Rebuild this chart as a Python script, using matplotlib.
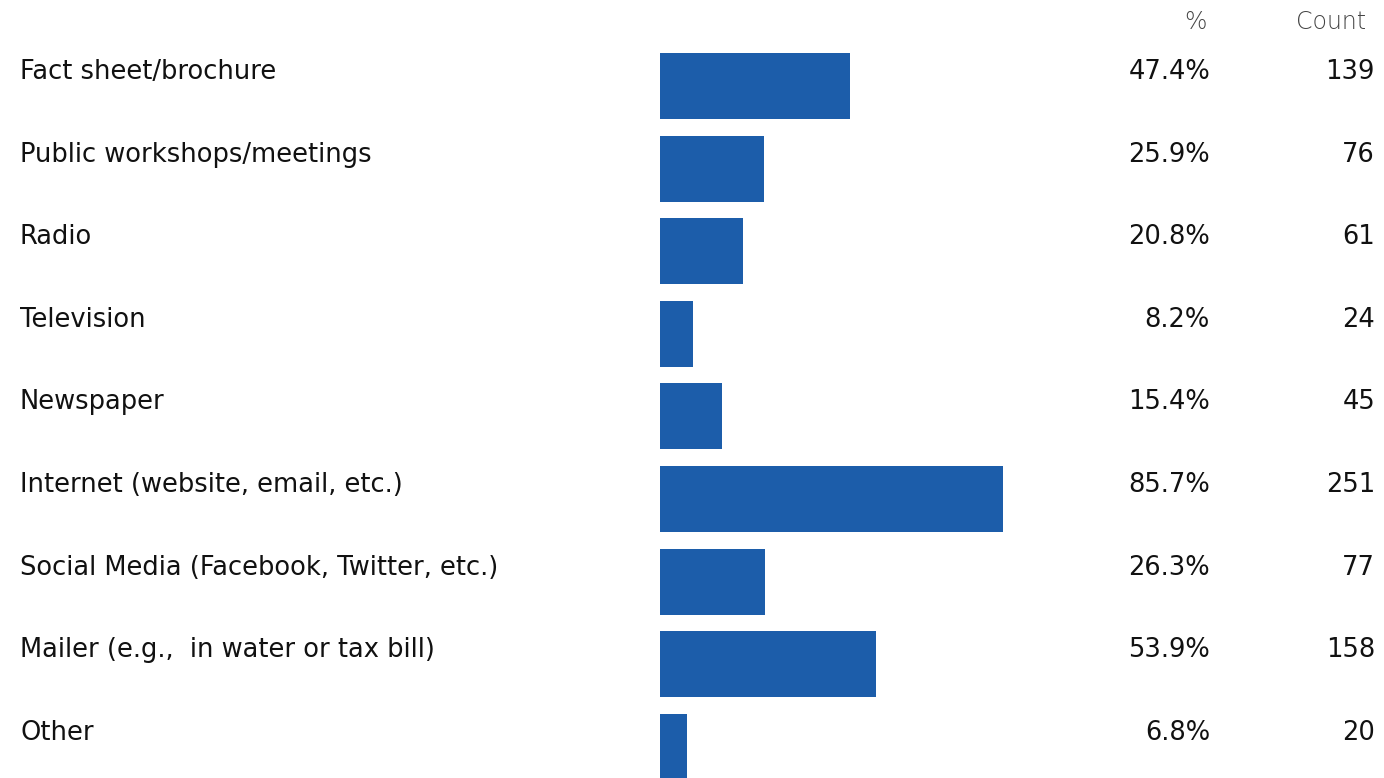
import matplotlib.pyplot as plt
import matplotlib.transforms as mtransforms

# data
categories = ['Fact sheet/brochure', 'Public workshops/meetings', 'Radio', 'Television',
              'Newspaper', 'Internet (website, email, etc.)', 'Social Media (Facebook, Twitter, etc.)',
              'Mailer (e.g.,  in water or tax bill)', 'Other']
percents = [47.4, 25.9, 20.8, 8.2, 15.4, 85.7, 26.3, 53.9, 6.8]
counts = [139, 76, 61, 24, 45, 251, 77, 158, 20]

W, H = 1384, 778
fig = plt.figure(figsize=(W / 100, H / 100), dpi=100)

# bar area: 0-100% spans 660..1060 px
ax = fig.add_axes([660 / W, 0, 400 / W, 1])
row = 82.6
top = -86 / row
bottom = (H - 86) / row
ax.barh(range(len(categories)), percents, height=66 / row, color='#1c5daa')
ax.set_xlim(0, 100)
ax.set_ylim(bottom, top)
ax.axis('off')

font = 'DejaVu Sans'
fs = 18.5
trans = mtransforms.blended_transform_factory(fig.transFigure, ax.transData)
for i, (cat, p, c) in enumerate(zip(categories, percents, counts)):
    y = i - 14 / row
    fig.text(20 / W, y, cat, transform=trans, ha='left', va='center', fontsize=fs, family=font, color='#111111')
    fig.text(1210 / W, y, f'{p:.1f}%', transform=trans, ha='right', va='center', fontsize=fs, family=font, color='#111111')
    fig.text(1375 / W, y, str(c), transform=trans, ha='right', va='center', fontsize=fs, family=font, color='#111111')

fig.text(1195 / W, 1 - 22 / H, '%', ha='center', va='center', fontsize=17, family=font, color='#444444', fontweight='light')
fig.text(1366 / W, 1 - 22 / H, 'Count', ha='right', va='center', fontsize=17, family=font, color='#444444', fontweight='light')

fig.savefig('out.png', dpi=100)
